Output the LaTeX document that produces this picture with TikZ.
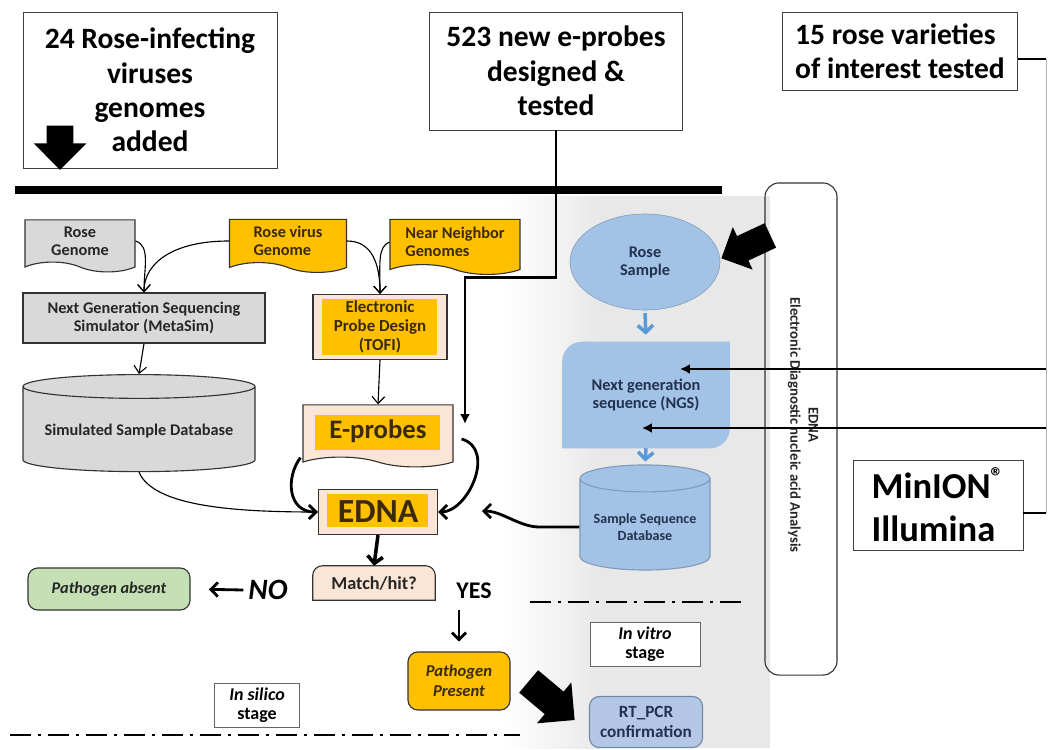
\documentclass[tikz,border=0pt]{standalone}
\usepackage{fontspec}
\setmainfont{Carlito}
\usetikzlibrary{shapes.geometric, shapes.symbols, shapes.arrows, arrows.meta, calc, backgrounds}

% colours taken from the figure
\definecolor{boxgray}{HTML}{D9D9D9}
\definecolor{gold}{HTML}{FFC000}
\definecolor{peach}{HTML}{FBE5D6}
\definecolor{skyblue}{HTML}{A2C2E6}
\definecolor{paleblue}{HTML}{B4C7E7}
\definecolor{flowblue}{HTML}{5B9BD5}
\definecolor{leafgreen}{HTML}{C5E0B4}
\definecolor{inkbrown}{HTML}{3A2A08}
\definecolor{inknavy}{HTML}{22324F}
\definecolor{inkgray}{HTML}{262626}

\tikzset{
  notebox/.style={draw=black!75, fill=white, align=center, inner sep=2pt,
    font=\fontsize{21}{24.5}\selectfont\bfseries},
  smalltext/.style={font=\fontsize{11.6}{12.8}\selectfont\bfseries},
  docbox/.style={shape=tape, tape bend top=none, tape bend bottom=out and in,
    tape bend height=7pt, draw=black!80, thick, smalltext, align=center},
  graybox/.style={draw=black!80, thick, fill=boxgray, text=inkgray, smalltext, align=center},
  peachbox/.style={draw=black!80, thick, fill=peach, text=inkbrown, smalltext, align=center},
  dbcyl/.style={cylinder, shape border rotate=90, draw=black!80, thick, smalltext, align=center},
  goldcore/.style n args={4}{path picture={
    \fill[gold] ($(path picture bounding box.north west)+(#1,-#2)$)
      rectangle ($(path picture bounding box.south east)+(-#3,#4)$);}},
  roundbox/.style={draw=black!80, thick, rounded corners=7pt, smalltext, align=center},
  stagebox/.style={draw=black!60, fill=white, align=center, inner sep=1pt,
    font=\fontsize{12.8}{13.5}\selectfont\bfseries},
  fatarrow/.style={single arrow, fill=black, inner xsep=0pt, minimum width=0pt},
  link/.style={thick, -{Straight Barb[length=5pt, width=9pt]}},
  boldlink/.style={line width=2pt, -{Straight Barb[length=5pt, width=10pt]}},
  bluelink/.style={flowblue, line width=2.5pt, -{Straight Barb[length=5pt, width=11pt]}},
  feedlink/.style={line width=1.8pt, -{Latex[length=7pt, width=7pt]}},
  stageline/.style={line width=2pt, dash pattern=on 15pt off 5pt on 2pt off 5pt},
}

\begin{document}
\begin{tikzpicture}[x=0.025cm, y=-0.025cm]
  % Fix the picture size
  \useasboundingbox (0,0) rectangle (1048,750);
  % Gray backdrop of the lab part
  \begin{scope}[on background layer]
    \fill[left color=white, right color=black!9] (505,196) rectangle (600,748);
    \fill[black!9] (600,196) rectangle (770,748);
  \end{scope}

  % Notes on top
  \node[notebox, minimum width=6.35cm, minimum height=3.9cm] (viruses) at (150,90) {24 Rose-infecting\\viruses\\genomes\\added};
  \node[notebox, minimum width=6.325cm, minimum height=2.95cm] (designed) at (556,71) {523 new e-probes\\designed \&\\tested};
  \node[notebox, align=left, minimum width=5.875cm, minimum height=1.95cm] (varieties) at (900,51) {15 rose varieties\\of interest tested};
  \node[notebox, align=left, minimum width=4.25cm, minimum height=2.25cm, font=\fontsize{26}{31}\selectfont\bfseries] (minion) at (938,505) {MinION\textsuperscript{\textregistered}\\Illumina};
  \node[fatarrow, rotate=-90, inner ysep=0.33cm, single arrow head extend=0.32cm, minimum height=1.1cm] (addarrow) at (60,141) {};
  % Thick bar under the notes
  \draw[line width=5pt] (15,190) -- (722,190);

  % In silico part
  \node[docbox, fill=boxgray, text=inkgray, minimum width=2.75cm, minimum height=1.3cm] (rosegen) at (80,241) {Rose\\Genome};
  \node[docbox, fill=gold, text=inkbrown, align=left, minimum width=2.925cm, minimum height=1.325cm] (rosevir) at (288,241) {Rose virus\\Genome};
  \node[docbox, fill=gold, text=inkbrown, align=left, minimum width=3.25cm, minimum height=1.375cm] (neighbor) at (455,242) {Near Neighbor\\Genomes};
  \node[graybox, minimum width=6.05cm, minimum height=1.25cm] (simulator) at (144,318) {Next Generation Sequencing\\Simulator (MetaSim)};
  \node[peachbox, goldcore={6.4pt}{3.5pt}{7pt}{3.5pt}, minimum width=3.35cm, minimum height=1.625cm, font=\fontsize{12}{13.5}\selectfont\bfseries] (design) at (380,327) {Electronic\\Probe Design\\(TOFI)};
  \node[dbcyl, fill=boxgray, text=inkgray, aspect=0.12, minimum width=5.8cm, minimum height=2.425cm] (simdb) at (139,431) {Simulated Sample Database};
  \node[docbox, fill=peach, text=inkbrown, goldcore={8.5pt}{7pt}{9pt}{13pt}, minimum width=3.75cm, minimum height=1.55cm, font=\fontsize{19}{22}\selectfont\bfseries] (eprobes) at (378,431) {E-probes};
  \node[peachbox, goldcore={6.4pt}{3.5pt}{7pt}{5pt}, minimum width=2.975cm, minimum height=1.125cm, font=\fontsize{24}{26}\selectfont\bfseries] (edna) at (378,512) {EDNA};
  \node[text=inkgray, font=\fontsize{13}{14}\selectfont\bfseries, minimum width=3.05cm, minimum height=0.85cm] (match) at (374,583) {Match/hit?};
  \node[roundbox, fill=leafgreen, text=inkgray, font=\fontsize{11.6}{12.8}\selectfont\bfseries\itshape, minimum width=4.05cm, minimum height=1.05cm] (absent) at (109,589) {Pathogen absent};
  \node[font=\fontsize{21}{24}\selectfont\bfseries\itshape] (no) at (268,590) {NO};
  \node[font=\fontsize{17}{20}\selectfont\bfseries] (yes) at (474,591) {YES};
  \node[roundbox, fill=gold, text=inkbrown, font=\fontsize{11.8}{14}\selectfont\bfseries\itshape, minimum width=2.55cm, minimum height=1.45cm] (present) at (459,681) {Pathogen\\Present};
  \node[stagebox, minimum width=2.125cm, minimum height=1.1cm] (insilico) at (257,705) {\textit{In silico}\\stage};

  % Lab part
  \node[ellipse, fill=skyblue, draw=skyblue!80!black, text=inknavy, smalltext, align=center, minimum width=3.75cm, minimum height=2.4cm] (sample) at (645,262) {Rose\\Sample};
  \node[text=inknavy, smalltext, align=center, minimum width=4.175cm, minimum height=2.65cm] (ngs) at (646,395) {Next generation\\sequence (NGS)};
  \node[dbcyl, fill=skyblue, draw=skyblue!80!black, text=inknavy, aspect=0.24, minimum width=3.25cm, minimum height=2.625cm, font=\fontsize{10}{12}\selectfont\bfseries] (seqdb) at (645,527) {Sample Sequence\\Database};
  \node[stagebox, minimum width=2.75cm, minimum height=1.1cm] (invitro) at (645,644) {\textit{In vitro}\\stage};
  \node[roundbox, fill=paleblue, draw=skyblue!70!black, text=inknavy, font=\fontsize{12.2}{14}\selectfont\bfseries, minimum width=2.825cm, minimum height=1.275cm] (rtpcr) at (646,722) {RT\_PCR\\confirmation};
  \node[draw=black!80, thick, rounded corners=10pt, minimum width=1.8cm, minimum height=12.3cm] (ednabar) at (801,429) {};
  \node[rotate=-90, align=center, text=inkgray, font=\fontsize{10.5}{13}\selectfont\bfseries] (ednatext) at (803,425) {EDNA\\Electronic Diagnostic nucleic acid Analysis};
  \node[fatarrow, rotate=205, inner ysep=0.33cm, single arrow head extend=0.25cm, minimum height=1.35cm] (samplearrow) at (752,244) {};
  \node[fatarrow, rotate=-40, inner ysep=0.36cm, single arrow head extend=0.3cm, minimum height=1.5cm] (confirmarrow) at (546,696) {};

  % Shapes with mixed corners
  \begin{scope}[on background layer]
    \fill[skyblue] (ngs.south west) [rounded corners=14pt] -- (ngs.north west) [sharp corners] -- (ngs.north east) [rounded corners=14pt] -- (ngs.south east) [sharp corners] -- cycle;
    \draw[thick, draw=black!80, fill=peach] (match.south west) [rounded corners=7pt] -- (match.north west) -- (match.north east) [sharp corners] -- (match.south east) -- cycle;
  \end{scope}

  % Connectors of the in silico part
  \draw[link] (rosegen.east) .. controls +(15,5) and +(0,-25) .. (simulator.north);
  \draw[link] (rosevir.west) .. controls +(-55,0) and +(0,-30) .. (simulator.north);
  \draw[link] (rosevir.east) .. controls +(25,0) and +(0,-30) .. (design.north);
  \draw[link] (neighbor.west) .. controls +(-12,5) and +(0,-30) .. (design.north);
  \draw[link] (simulator.south) -- (simdb.north);
  \draw[link] (design.south) -- (eprobes.north);
  \coordinate (probein) at (465,424);
  \draw[feedlink] (designed.south) -- ++(0,147) -| (probein);
  \draw[boldlink] ($(eprobes.east)+(8,8)$) .. controls +(35,10) and +(30,0) .. (edna.east);
  \draw[boldlink] ($(eprobes.south west)+(-2,0)$) .. controls +(-15,20) and +(-30,0) .. (edna.west);
  \draw[link] (simdb.south) .. controls +(15,35) and +(-80,0) .. (edna.west);
  \coordinate (seqin) at (482,511);
  \draw[boldlink] (seqdb.west) -- ++(-40,0) .. controls +(-20,0) and +(20,0) .. (seqin);
  \draw[line width=2.5pt, -{Straight Barb[length=5pt, width=11pt]}] (edna.south) -- (match.north);
  \draw[boldlink, shorten >=13pt] (no.west) -- (absent.east);
  \draw[boldlink, shorten <=4pt, shorten >=7pt] (yes.south -| present.north) -- (present.north);

  % Connectors of the lab part
  \draw[bluelink, shorten <=2pt, shorten >=5pt] (sample.south) -- (ngs.north);
  \draw[bluelink, shorten >=2pt] (ngs.south) -- (seqdb.north);
  \coordinate (railtop) at (1046,59);
  \coordinate (railbot) at (1046,513);
  \draw[line width=1.8pt] (varieties.east |- railtop) -- (railtop);
  \draw[line width=1.8pt] (minion.east |- railbot) -- (railbot);
  \draw[black!30] (railtop) -- (railbot);
  \coordinate (ngsin1) at ($(ngs.center)+(34,-26)$);
  \coordinate (ngsin2) at ($(ngs.center)+(-4,33)$);
  \draw[feedlink] (railtop |- ngsin1) -- (ngsin1);
  \draw[feedlink] (railtop |- ngsin2) -- (ngsin2);

  % Stage borders
  \draw[stageline] (530,602) -- (745,602);
  \draw[stageline] (10,735) -- (520,735);
\end{tikzpicture}
\end{document}
